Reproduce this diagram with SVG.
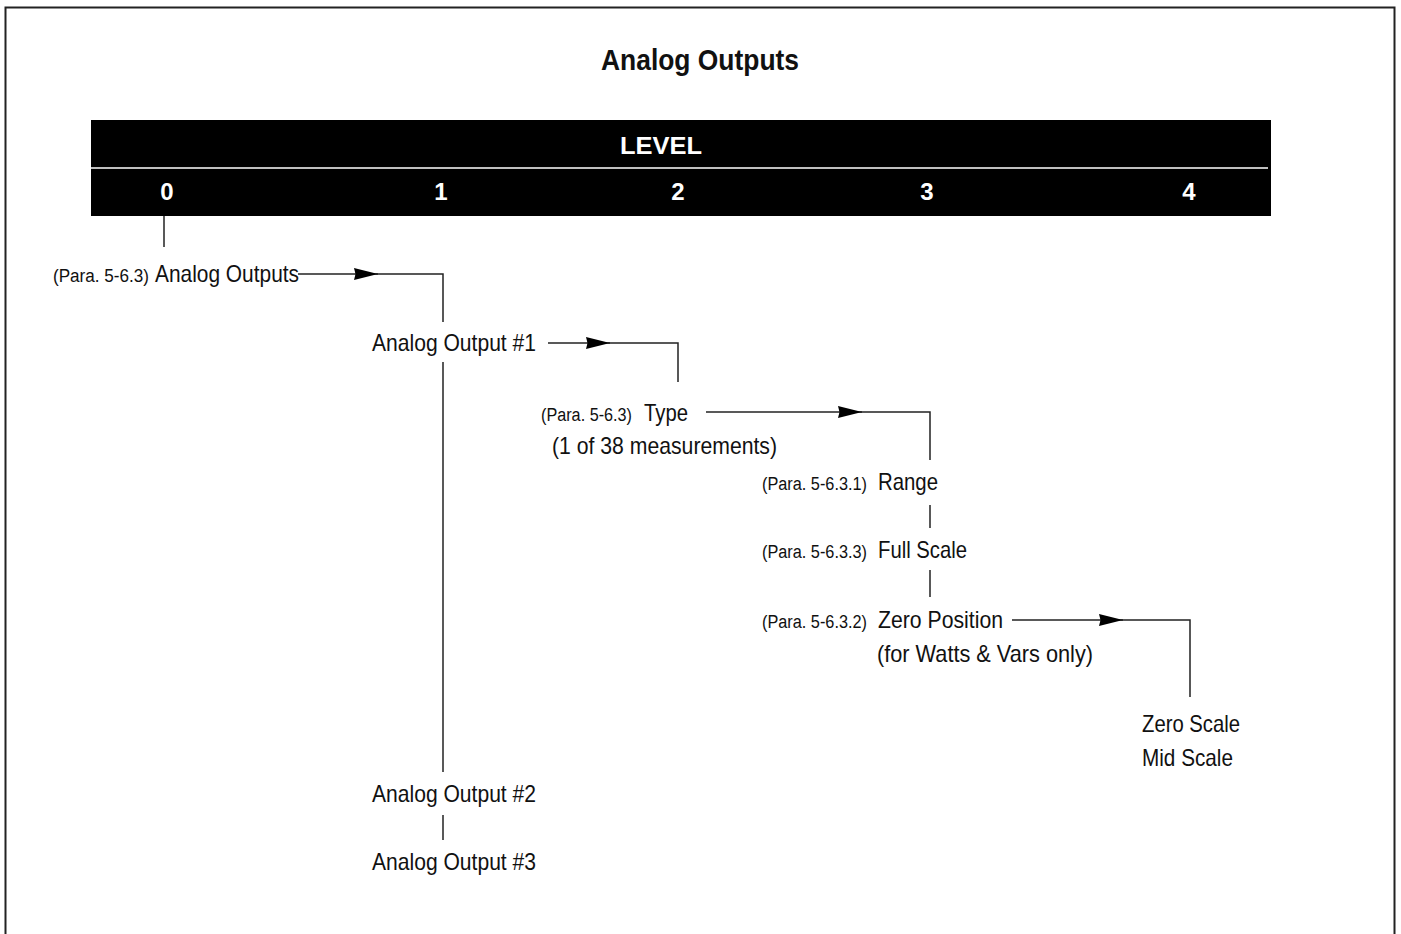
<svg xmlns="http://www.w3.org/2000/svg" width="1401" height="934" viewBox="0 0 1401 934">
<style>
.t{font-family:"Liberation Sans",Arial,sans-serif;font-size:24px;fill:#111}
.s{font-family:"Liberation Sans",Arial,sans-serif;font-size:18px;fill:#111}
.h{font-family:"Liberation Sans",Arial,sans-serif;font-weight:bold;fill:#fff;font-size:24px}
.ln{stroke:#222;stroke-width:1.5;fill:none}
</style>
<defs>
<marker id="ah" markerUnits="userSpaceOnUse" markerWidth="26" markerHeight="14" refX="24" refY="7" orient="auto">
<path d="M0,1 L24,7 L0,13 L1.5,7 z" fill="#000"/>
</marker>
</defs>
<rect x="5.5" y="7.5" width="1389" height="940" fill="#fff" stroke="#222" stroke-width="2"/>
<g id="title">
<text x="700" y="70" text-anchor="middle" font-family="Liberation Sans,Arial,sans-serif" font-weight="bold" font-size="30" fill="#111" textLength="198" lengthAdjust="spacingAndGlyphs">Analog Outputs</text>
</g>
<g id="level-bar">
<rect x="91" y="120" width="1180" height="96" fill="#000"/>
<line x1="91" y1="168" x2="1268" y2="168" stroke="#fff" stroke-width="1.5"/>
<text class="h" x="661" y="154" text-anchor="middle" textLength="82" lengthAdjust="spacingAndGlyphs">LEVEL</text>
<text class="h" x="167" y="200" text-anchor="middle">0</text>
<text class="h" x="441" y="200" text-anchor="middle">1</text>
<text class="h" x="678" y="200" text-anchor="middle">2</text>
<text class="h" x="927" y="200" text-anchor="middle">3</text>
<text class="h" x="1189" y="200" text-anchor="middle">4</text>
</g>
<g id="connectors">
<line class="ln" x1="298" y1="274" x2="378" y2="274" marker-end="url(#ah)"/>
<line class="ln" x1="164" y1="216" x2="164" y2="247"/>
<polyline class="ln" points="376,274 443,274 443,322"/>
<line class="ln" x1="443" y1="362" x2="443" y2="772"/>
<line class="ln" x1="443" y1="815" x2="443" y2="840"/>
<line class="ln" x1="548" y1="343" x2="610" y2="343" marker-end="url(#ah)"/>
<polyline class="ln" points="608,343 678,343 678,382"/>
<line class="ln" x1="706" y1="412" x2="862" y2="412" marker-end="url(#ah)"/>
<polyline class="ln" points="860,412 930,412 930,460"/>
<line class="ln" x1="930" y1="505" x2="930" y2="528"/>
<line class="ln" x1="930" y1="570" x2="930" y2="597"/>
<line class="ln" x1="1012" y1="620" x2="1123" y2="620" marker-end="url(#ah)"/>
<polyline class="ln" points="1121,620 1190,620 1190,697"/>
</g>
<g id="node-analog-outputs">
<text class="s" x="53" y="282" textLength="96" lengthAdjust="spacingAndGlyphs">(Para. 5-6.3)</text>
<text class="t" x="155" y="282" textLength="144" lengthAdjust="spacingAndGlyphs">Analog Outputs</text>
</g>
<g id="node-ao1">
<text class="t" x="372" y="351" textLength="164" lengthAdjust="spacingAndGlyphs">Analog Output #1</text>
</g>
<g id="node-type">
<text class="s" x="541" y="421" textLength="91" lengthAdjust="spacingAndGlyphs">(Para. 5-6.3)</text>
<text class="t" x="644" y="421" textLength="44" lengthAdjust="spacingAndGlyphs">Type</text>
<text class="t" x="552" y="454" textLength="225" lengthAdjust="spacingAndGlyphs">(1 of 38 measurements)</text>
</g>
<g id="node-range">
<text class="s" x="762" y="490" textLength="105" lengthAdjust="spacingAndGlyphs">(Para. 5-6.3.1)</text>
<text class="t" x="878" y="490" textLength="60" lengthAdjust="spacingAndGlyphs">Range</text>
</g>
<g id="node-full-scale">
<text class="s" x="762" y="558" textLength="105" lengthAdjust="spacingAndGlyphs">(Para. 5-6.3.3)</text>
<text class="t" x="878" y="558" textLength="89" lengthAdjust="spacingAndGlyphs">Full Scale</text>
</g>
<g id="node-zero-position">
<text class="s" x="762" y="628" textLength="105" lengthAdjust="spacingAndGlyphs">(Para. 5-6.3.2)</text>
<text class="t" x="878" y="628" textLength="125" lengthAdjust="spacingAndGlyphs">Zero Position</text>
<text class="t" x="877" y="662" textLength="216" lengthAdjust="spacingAndGlyphs">(for Watts &amp; Vars only)</text>
</g>
<g id="node-zero-mid">
<text class="t" x="1142" y="732" textLength="98" lengthAdjust="spacingAndGlyphs">Zero Scale</text>
<text class="t" x="1142" y="766" textLength="91" lengthAdjust="spacingAndGlyphs">Mid Scale</text>
</g>
<g id="node-ao2">
<text class="t" x="372" y="802" textLength="164" lengthAdjust="spacingAndGlyphs">Analog Output #2</text>
</g>
<g id="node-ao3">
<text class="t" x="372" y="870" textLength="164" lengthAdjust="spacingAndGlyphs">Analog Output #3</text>
</g>
</svg>
